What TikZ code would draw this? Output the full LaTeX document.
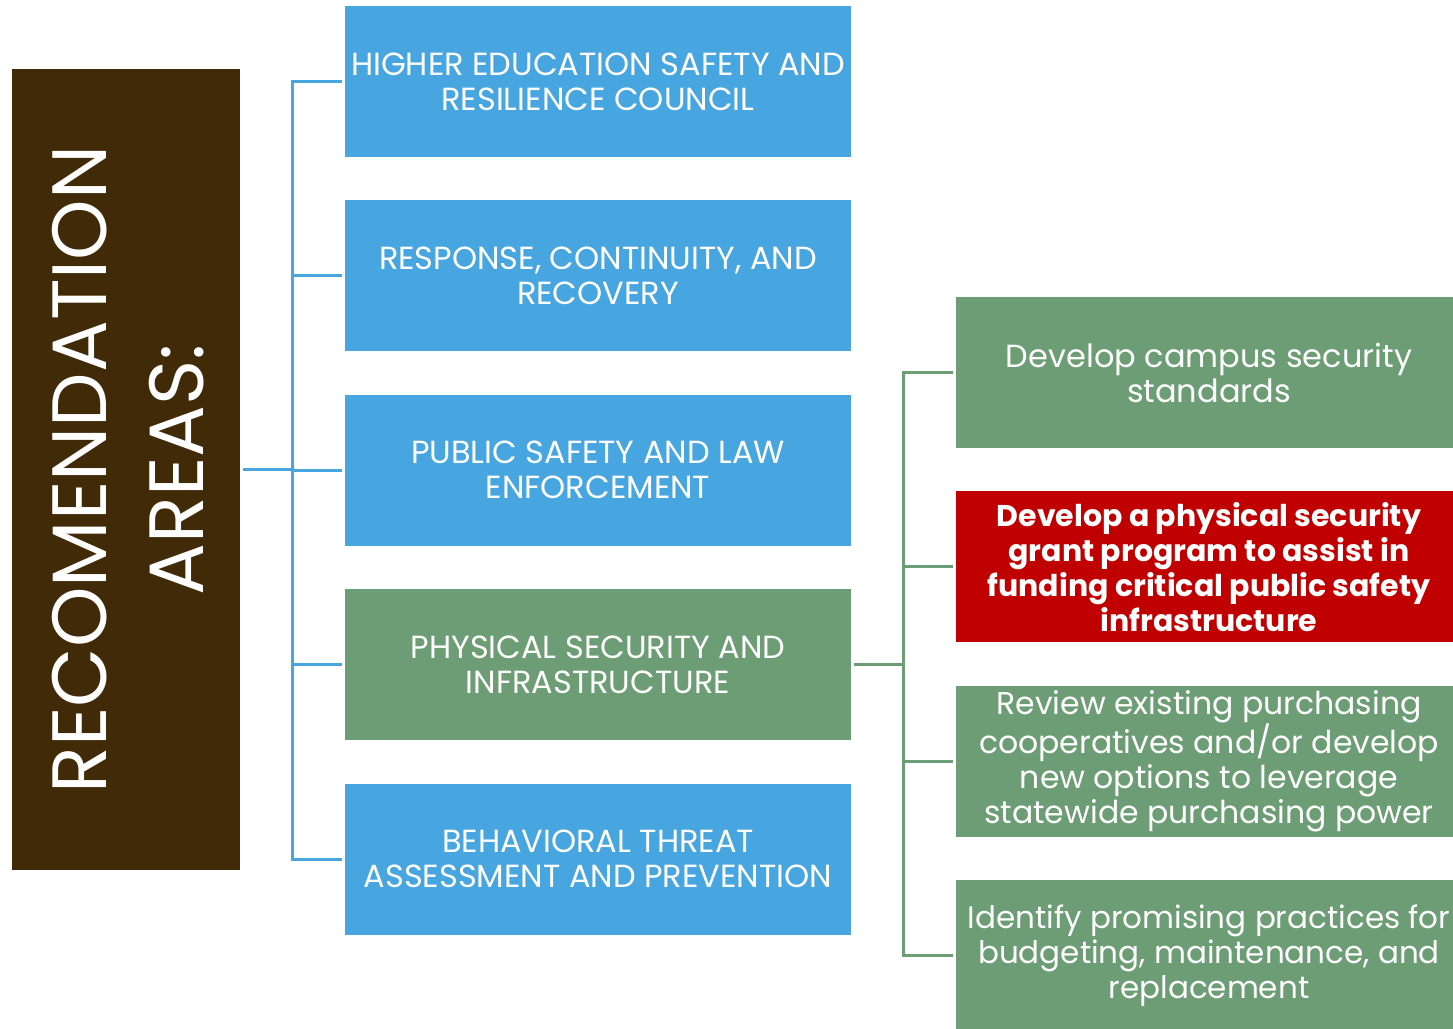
\documentclass[tikz,border=0pt]{standalone}
\usepackage{fontspec}
\setmainfont{Poppins}
\usetikzlibrary{positioning}

\definecolor{areabrown}{RGB}{64,42,7}
\definecolor{areablue}{RGB}{71,165,223}
\definecolor{areagreen}{RGB}{109,157,116}
\definecolor{areared}{RGB}{192,0,0}

\begin{document}
\begin{tikzpicture}[x=1pt,y=-1pt,node distance=43pt,
  area/.style={rectangle, fill=areablue, text=white, minimum width=506pt, minimum height=151pt, align=center, inner sep=2pt, font=\fontsize{32}{35}\selectfont},
  item/.style={rectangle, fill=areagreen, text=white, minimum width=506pt, minimum height=151pt, align=center, inner sep=2pt, font=\fontsize{32}{35}\selectfont},
  link/.style={line width=3pt}]
\useasboundingbox (0,0) rectangle (1453,1028);

\node (title) [rectangle, fill=areabrown, text=white, minimum width=228pt, minimum height=801pt] at (126,469.5) {};
\node [rotate=90, text=white, align=center, font=\fontsize{77}{97}\selectfont] at (128,469.5) {RECOMENDATION\\AREAS:};

\node (council) [area] at (598,81.5) {HIGHER EDUCATION SAFETY AND\\RESILIENCE COUNCIL};
\node (response) [area, below=of council] {RESPONSE, CONTINUITY, AND\\RECOVERY};
\node (police) [area, below=of response] {PUBLIC SAFETY AND LAW\\ENFORCEMENT};
\node (physical) [area, fill=areagreen, below=of police] {PHYSICAL SECURITY AND\\INFRASTRUCTURE};
\node (threat) [area, below=of physical] {BEHAVIORAL THREAT\\ASSESSMENT AND PREVENTION};

\node (standards) [item] at (1209,372.5) {Develop campus security\\standards};
\node (grant) [item, fill=areared, below=of standards, font=\bfseries\fontsize{30}{35}\selectfont] {Develop a physical security\\grant program to assist in\\funding critical public safety\\infrastructure};
\node (purchase) [item, below=of grant, font=\fontsize{31.5}{35}\selectfont] {Review existing purchasing\\cooperatives and/or develop\\new options to leverage\\statewide purchasing power};
\node (budget) [item, below=of purchase, font=\fontsize{31}{35}\selectfont] {Identify promising practices for\\budgeting, maintenance, and\\replacement};

% tree from the title box
\coordinate (lhub) at ([xshift=52pt]title.east);
\draw[link, areablue] ([xshift=3pt]title.east) -- (lhub);
\foreach \n in {council,response,police,physical,threat}
  \draw[link, areablue] (lhub) |- ([xshift=-3pt]\n.west);

% tree from the physical security box
\coordinate (rhub) at ([xshift=52pt]physical.east);
\draw[link, areagreen] ([xshift=3pt]physical.east) -- (rhub);
\foreach \n in {standards,grant,purchase,budget}
  \draw[link, areagreen] (rhub) |- ([xshift=-3pt]\n.west);
\end{tikzpicture}
\end{document}
